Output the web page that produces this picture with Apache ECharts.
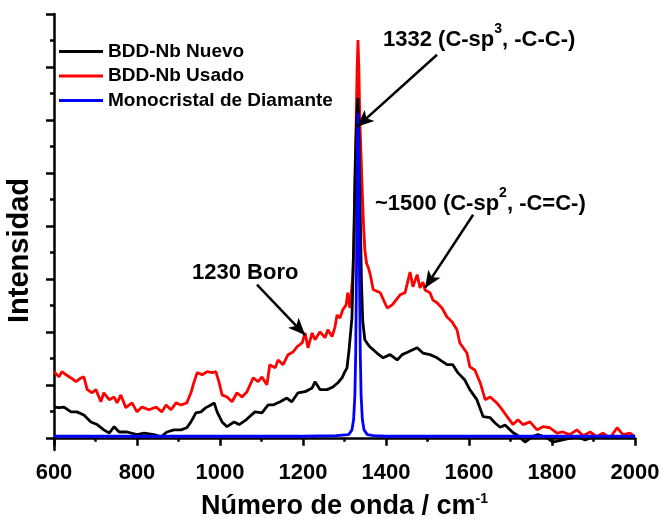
<!DOCTYPE html>
<html>
<head>
<meta charset="utf-8">
<script src="https://cdn.jsdelivr.net/npm/echarts@6/dist/echarts.min.js"></script>
<style>
  html, body { margin: 0; padding: 0; background: #fff; }
  #chart { width: 661px; height: 519px; }
</style>
</head>
<body>
<div id="chart"></div>
<script>
// Raman spectra (arbitrary intensity units)
const nuevoX = [600,612,624,641,655,672,689,704,720,733,745,757,776,800,817,841,858,872,889,906,920,930,942,954,966,978,986,993,1005,1017,1034,1046,1063,1084,1101,1116,1128,1145,1161,1173,1188,1205,1222,1229,1241,1258,1272,1284,1294,1301,1306,1311,1318,1320,1323,1326,1329,1332.5,1335,1338,1341,1344,1349,1355,1361,1378,1393,1410,1427,1439,1453,1475,1489,1506,1523,1547,1561,1573,1590,1602,1619,1634,1651,1663,1675,1687,1699,1706,1718,1735,1752,1766,1788,1802,1836,1860,1880,1900,1930,1960,2000];
const nuevoY = [0.58,0.57,0.58,0.49,0.49,0.43,0.30,0.25,0.15,0.09,0.21,0.11,0.11,0.06,0.09,0.06,0.02,0.11,0.15,0.15,0.19,0.30,0.47,0.49,0.57,0.62,0.66,0.49,0.30,0.21,0.30,0.25,0.34,0.49,0.47,0.62,0.62,0.68,0.75,0.68,0.85,0.87,0.94,1.06,0.91,0.91,0.96,1.04,1.13,1.25,1.32,1.66,2.28,2.90,4.00,5.20,6.00,6.42,5.60,4.20,2.90,2.20,1.85,1.78,1.72,1.60,1.51,1.57,1.47,1.57,1.62,1.70,1.60,1.57,1.51,1.38,1.38,1.23,1.09,0.91,0.72,0.40,0.38,0.28,0.20,0.24,0.15,0.10,0.04,-0.08,0.02,0.06,0.00,-0.08,-0.02,0.02,-0.04,0.02,0.00,0.02,0.01];

const usadoX = [600,612,619,629,641,653,665,672,680,692,701,713,720,733,745,752,761,773,788,800,812,829,846,860,870,882,894,906,920,930,937,945,957,969,981,990,998,1005,1017,1029,1041,1053,1065,1080,1092,1101,1113,1120,1133,1140,1152,1164,1176,1186,1198,1205,1212,1222,1229,1241,1253,1260,1270,1277,1282,1289,1296,1304,1308,1313,1316,1320,1323,1325,1328,1330.5,1332.5,1334.5,1337,1340,1343,1346,1349,1353,1358,1363,1369,1386,1403,1415,1434,1446,1458,1465,1475,1482,1489,1494,1506,1513,1523,1535,1547,1559,1571,1578,1595,1602,1614,1627,1639,1651,1667,1680,1692,1706,1718,1730,1747,1764,1778,1795,1812,1826,1843,1860,1875,1892,1908,1923,1940,1957,1971,1988,2000];
const usadoY = [1.25,1.15,1.25,1.19,1.13,1.06,1.13,1.15,0.91,0.85,0.91,0.68,0.85,0.72,0.77,0.66,0.81,0.57,0.66,0.49,0.58,0.53,0.58,0.49,0.62,0.53,0.66,0.62,0.66,0.85,1.04,1.23,1.19,1.25,1.23,1.25,1.04,0.81,0.77,0.68,0.85,0.77,0.87,1.13,1.06,1.15,1.00,1.38,1.32,1.47,1.38,1.57,1.62,1.72,1.79,1.98,1.70,1.98,1.85,2.00,1.89,2.04,1.91,2.09,2.32,2.26,2.42,2.51,2.74,2.45,2.70,3.05,3.70,4.60,5.90,7.00,7.51,7.00,6.00,5.30,4.60,4.00,3.55,3.30,3.20,3.05,2.80,2.74,2.45,2.51,2.70,2.74,3.13,2.85,3.08,2.83,2.94,2.79,2.74,2.60,2.55,2.45,2.28,2.19,2.04,1.79,1.60,1.34,1.28,1.04,0.72,0.77,0.66,0.53,0.40,0.25,0.34,0.25,0.30,0.15,0.21,0.19,0.09,0.11,0.06,0.15,0.04,0.11,0.02,0.09,0.00,0.19,0.06,0.09,0.02];

const diamanteX = [600,700,800,900,1000,1100,1200,1280,1310,1318,1322,1325,1327,1329,1331,1332.5,1334,1336,1338,1340,1343,1347,1355,1370,1400,1500,1600,1700,1800,1900,2000];
const diamanteY = [0.03,0.03,0.03,0.03,0.03,0.03,0.03,0.04,0.06,0.15,0.35,0.80,1.60,3.20,5.40,6.13,5.40,3.20,1.60,0.80,0.35,0.15,0.06,0.04,0.03,0.03,0.03,0.03,0.03,0.03,0.03];

const seriesNames = ['BDD-Nb Nuevo', 'BDD-Nb Usado', 'Monocristal de Diamante'];
const seriesColors = ['#000000', '#ff0000', '#0000ff'];

const xTicks = { min: 600, max: 2000, step: 200 };
const yMajorTicks = [0, 1, 2, 3, 4, 5, 6, 7, 8];
const yMinorTicks = [0.5, 1.5, 2.5, 3.5, 4.5, 5.5, 6.5, 7.5];

// Annotation arrows, in data coordinates: [from, to]
const arrows = [
  [[1523, 7.23], [1330, 5.87]],
  [[1610, 4.21], [1494, 2.83]],
  [[1089, 2.89], [1205, 1.94]]
];

const zip = (xs, ys) => xs.map((x, i) => [x, ys[i]]);
const FONT = '"Liberation Sans", Arial, sans-serif';
const LINE_W = 2.8;

const chart = echarts.init(document.getElementById('chart'), null, { renderer: 'canvas' });

const axisLineStyle = { color: '#000', width: 2.5 };

chart.setOption({
  animation: false,
  backgroundColor: '#fff',
  grid: { left: 54, right: 26, top: 14, bottom: 69, outerBoundsMode: 'none', containLabel: false },
  legend: {
    data: seriesNames,
    orient: 'vertical',
    left: 54,
    top: 37,
    icon: 'rect',
    itemWidth: 44,
    itemHeight: 3,
    itemGap: 5.5,
    textStyle: { fontFamily: FONT, fontWeight: 'bold', fontSize: 19, lineHeight: 19, color: '#000' },
    selectedMode: false
  },
  xAxis: {
    type: 'value',
    min: xTicks.min,
    max: xTicks.max,
    interval: xTicks.step,
    axisLine: { lineStyle: axisLineStyle },
    axisTick: { length: 8, lineStyle: axisLineStyle },
    minorTick: { show: true, splitNumber: 2, length: 4, lineStyle: axisLineStyle },
    splitLine: { show: false },
    axisLabel: {
      fontFamily: FONT, fontWeight: 'bold', fontSize: 22, color: '#000', margin: 12,
      formatter: (v) => String(v)
    },
    name: '{m|Número de onda / cm}{s|-1}',
    nameLocation: 'middle',
    nameGap: 43,
    nameTextStyle: {
      rich: {
        m: { fontFamily: FONT, fontWeight: 'bold', fontSize: 27, color: '#000', verticalAlign: 'bottom', lineHeight: 27 },
        s: { fontFamily: FONT, fontWeight: 'bold', fontSize: 14, color: '#000', verticalAlign: 'bottom', lineHeight: 14, padding: [0, 0, 14, 0] }
      }
    }
  },
  yAxis: [
    {
      type: 'value',
      min: -0.23,
      max: 8,
      axisLine: { show: true, lineStyle: axisLineStyle },
      axisTick: { show: true, length: 8, lineStyle: axisLineStyle, customValues: yMajorTicks },
      axisLabel: { show: false, customValues: yMajorTicks },
      splitLine: { show: false },
      name: 'Intensidad',
      nameLocation: 'middle',
      nameGap: 20,
      nameTextStyle: { fontFamily: FONT, fontWeight: 'bold', fontSize: 29, color: '#000', padding: [0, 37, 0, 0] }
    },
    {
      type: 'value',
      min: -0.23,
      max: 8,
      position: 'left',
      axisLine: { show: false },
      axisTick: { show: true, length: 4, lineStyle: axisLineStyle, customValues: yMinorTicks },
      axisLabel: { show: false, customValues: yMinorTicks },
      splitLine: { show: false }
    }
  ],
  series: [
    {
      name: seriesNames[0],
      type: 'line',
      data: zip(nuevoX, nuevoY),
      color: seriesColors[0],
      showSymbol: false,
      symbol: 'none',
      z: 3,
      lineStyle: { width: LINE_W, color: seriesColors[0] }
    },
    {
      name: seriesNames[1],
      type: 'line',
      data: zip(usadoX, usadoY),
      color: seriesColors[1],
      showSymbol: false,
      symbol: 'none',
      z: 2,
      lineStyle: { width: LINE_W, color: seriesColors[1] }
    },
    {
      name: seriesNames[2],
      type: 'line',
      data: zip(diamanteX, diamanteY),
      color: seriesColors[2],
      showSymbol: false,
      symbol: 'none',
      z: 4,
      lineStyle: { width: LINE_W, color: seriesColors[2] },
      markLine: {
        silent: true,
        symbol: ['none', 'arrow'],
        symbolSize: [11, 17],
        label: { show: false },
        lineStyle: { color: '#000', width: 2.5, type: 'solid' },
        emphasis: { disabled: true },
        data: arrows.map(([a, b]) => [{ coord: a }, { coord: b }])
      }
    }
  ],
  graphic: [
    {
      type: 'text', z: 100, x: 383, y: 51,
      style: {
        text: '{a|1332 (C-sp}{s|3}{a|, -C-C-)}',
        verticalAlign: 'bottom',
        rich: {
          a: { fontFamily: FONT, fontWeight: 'bold', fontSize: 22, lineHeight: 22, fill: '#000', verticalAlign: 'bottom' },
          s: { fontFamily: FONT, fontWeight: 'bold', fontSize: 14, lineHeight: 14, fill: '#000', verticalAlign: 'bottom', padding: [0, 0, 15, 0] }
        }
      }
    },
    {
      type: 'text', z: 100, x: 375, y: 215,
      style: {
        text: '{a|~1500 (C-sp}{s|2}{a|, -C=C-)}',
        verticalAlign: 'bottom',
        rich: {
          a: { fontFamily: FONT, fontWeight: 'bold', fontSize: 22, lineHeight: 22, fill: '#000', verticalAlign: 'bottom' },
          s: { fontFamily: FONT, fontWeight: 'bold', fontSize: 14, lineHeight: 14, fill: '#000', verticalAlign: 'bottom', padding: [0, 0, 15, 0] }
        }
      }
    },
    {
      type: 'text', z: 100, x: 192, y: 283.5,
      style: {
        text: '1230 Boro',
        verticalAlign: 'bottom',
        font: 'bold 22px ' + FONT,
        lineHeight: 22,
        fill: '#000'
      }
    }
  ]
});
</script>
</body>
</html>
